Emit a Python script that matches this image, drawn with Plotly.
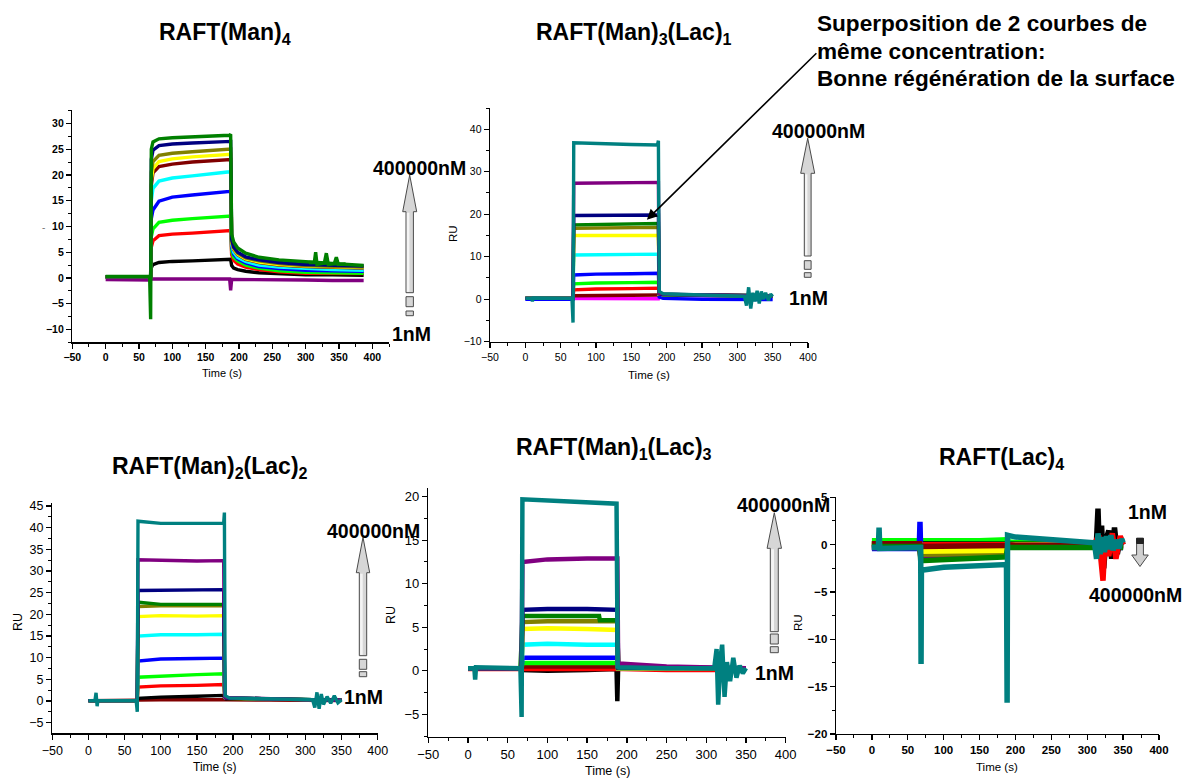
import plotly.graph_objects as go

W, H = 1183, 778

# ---------------- colours (Origin palette) ----------------
BLACK = '#000000'; RED = '#FF0000'; LIME = '#00FF00'; BLUE = '#0000FF'
CYAN = '#00FFFF'; MAGENTA = '#FF00FF'; YELLOW = '#FFFF00'; OLIVE = '#808000'
NAVY = '#000080'; PURPLE = '#800080'; WINE = '#800000'; DKGREEN = '#008000'
TEAL = '#008080'

# ---------------- titles / labels ----------------
TITLES = ['RAFT(Man)<sub>4</sub>', 'RAFT(Man)<sub>3</sub>(Lac)<sub>1</sub>',
          'RAFT(Man)<sub>2</sub>(Lac)<sub>2</sub>', 'RAFT(Man)<sub>1</sub>(Lac)<sub>3</sub>',
          'RAFT(Lac)<sub>4</sub>']
NOTE_LINES = ['Superposition de 2 courbes de', 'même concentration:',
              'Bonne régénération de la surface']
HIGH_LABEL = '400000nM'
LOW_LABEL = '1nM'
X_LABEL = 'Time (s)'
Y_LABEL = 'RU'

# ---------------- panel 1 : RAFT(Man)4 ----------------
P1_T = [0, 66, 67.5, 68.5, 71, 80, 100, 130, 160, 186, 187.5, 189, 192, 198, 210, 230, 260, 300, 340, 387]
P1_PURPLE = [-0.3, -0.3, -0.4, -0.2, -0.2, -0.2, -0.2, -0.2, -0.2, -0.2, -2.4, -0.3, -0.3, -0.3, -0.3, -0.3, -0.3, -0.4, -0.5, -0.5]
P1_BLACK = [0.2, 0.2, 0.2, 2.0, 2.6, 3.0, 3.2, 3.3, 3.4, 3.5, 3.6, 2.4, 1.9, 1.6, 1.3, 1.0, 0.8, 0.6, 0.6, 0.5]
P1_RED = [0.2, 0.2, 0.2, 6.0, 7.2, 8.2, 8.5, 8.7, 8.9, 9.1, 9.2, 4.5, 3.4, 2.7, 2.1, 1.6, 1.2, 0.9, 0.85, 0.85]
P1_LIME = [0.2, 0.2, 0.2, 8.0, 9.5, 10.8, 11.2, 11.5, 11.7, 11.9, 12.0, 5.2, 4.0, 3.3, 2.5, 1.9, 1.4, 1.1, 1.0, 0.9]
P1_BLUE = [0.2, 0.2, 0.2, 11.5, 13.2, 14.9, 15.7, 16.1, 16.4, 16.8, 17.0, 6.0, 4.6, 3.7, 2.9, 2.2, 1.8, 1.5, 1.4, 1.3]
P1_CYAN = [0.2, 0.2, 0.2, 15.0, 17.4, 18.8, 19.4, 19.8, 20.2, 20.6, 20.8, 6.5, 5.0, 4.0, 3.2, 2.5, 2.1, 1.8, 1.6, 1.5]
P1_WINE = [0.2, 0.2, 0.2, 18.0, 20.4, 21.6, 22.1, 22.5, 22.7, 22.9, 23.0, 7.0, 5.5, 4.5, 3.6, 3.0, 2.5, 2.2, 2.0, 1.9]
P1_YELLOW = [0.2, 0.2, 0.2, 19.0, 21.2, 22.6, 23.1, 23.5, 23.7, 23.9, 24.0, 7.0, 5.6, 4.6, 3.7, 3.1, 2.6, 2.3, 2.1, 2.0]
P1_OLIVE = [0.2, 0.2, 0.2, 20.5, 22.6, 23.8, 24.2, 24.5, 24.7, 24.9, 25.0, 7.2, 5.8, 4.8, 3.9, 3.3, 2.8, 2.4, 2.2, 2.1]
P1_NAVY = [0.2, 0.2, 0.2, 23.0, 24.8, 25.7, 26.0, 26.2, 26.3, 26.4, 26.5, 7.5, 6.0, 5.0, 4.1, 3.5, 3.0, 2.6, 2.4, 2.3]
P1_DKGREEN = [0.3, 0.3, -8.0, 25.0, 26.4, 27.0, 27.2, 27.4, 27.6, 27.7, 27.9, 8.5, 7.0, 5.8, 4.8, 4.0, 3.5, 3.1, 2.8, 2.4]
P1_DKGREEN_TAIL_T = [305, 313, 315, 317, 328, 331, 334, 343, 346, 349, 360]
P1_DKGREEN_TAIL = [3.0, 3.0, 5.0, 2.6, 2.9, 4.8, 2.6, 2.8, 4.0, 2.6, 2.7]

# ---------------- panel 2 : RAFT(Man)3(Lac)1 ----------------
P2_T = [0, 66, 67.5, 68.5, 100, 150, 187, 188.3, 189.5, 195, 250, 300, 350]
P2_MAGENTA = [0.2, 0.2, 0.2, 0.1, 0.1, 0.1, 0.1, 0.1, 0.9, 0.9, 0.8, 0.7, 0.7]
P2_WINE = [0.2, 0.2, 0.2, 0.8, 0.9, 1.0, 1.0, 1.0, 1.0, 1.0, 0.9, 0.8, 0.7]
P2_RED = [0.2, 0.2, 0.2, 2.2, 2.4, 2.5, 2.6, 2.6, 1.1, 1.0, 0.9, 0.8, 0.7]
P2_LIME = [0.2, 0.2, 0.2, 3.6, 3.8, 3.9, 4.0, 4.0, 1.1, 1.0, 0.9, 0.8, 0.7]
P2_BLUE = [0.0, 0.0, 0.0, 5.7, 5.9, 6.0, 6.1, 6.1, 0.5, 0.2, 0.0, -0.1, -0.1]
P2_CYAN = [0.2, 0.2, 0.2, 10.4, 10.5, 10.5, 10.6, 10.6, 1.2, 1.1, 1.0, 0.9, 0.8]
P2_YELLOW = [0.2, 0.2, 0.2, 15.0, 15.0, 15.1, 15.0, 15.0, 1.2, 1.1, 1.0, 0.9, 0.8]
P2_OLIVE = [0.2, 0.2, 0.2, 16.7, 16.8, 16.8, 16.9, 16.9, 1.2, 1.1, 1.0, 0.9, 0.8]
P2_DKGREEN = [0.2, 0.2, 0.2, 17.5, 17.6, 17.7, 17.8, 17.8, 1.3, 1.1, 1.0, 0.9, 0.8]
P2_NAVY = [0.2, 0.2, 0.2, 19.7, 19.7, 19.8, 19.8, 19.8, 1.3, 1.1, 1.0, 0.9, 0.8]
P2_PURPLE = [0.2, 0.2, 0.2, 27.3, 27.4, 27.4, 27.5, 27.5, 1.4, 1.2, 1.0, 0.9, 0.8]
P2_TEAL_T = [0, 9, 10, 11, 66, 67.5, 68.5, 100, 150, 187, 188.3, 189.5, 195, 250, 300, 310, 313, 316, 319, 322, 325, 328, 331, 334, 337, 340, 344, 347, 350]
P2_TEAL = [0.2, 0.2, -0.5, 0.3, 0.2, -5.5, 36.8, 36.6, 36.4, 36.3, 37.3, 1.8, 1.3, 1.0, 0.8, 0.7, -1.5, 2.8, -2.2, 1.5, -0.5, 2.0, -1.0, 1.8, 0.0, 1.5, -0.3, 1.2, 0.6]

# ---------------- panel 3 : RAFT(Man)2(Lac)2 ----------------
P3_T = [0, 66, 67.5, 68.5, 100, 150, 187, 188.5, 190, 250, 300, 350]
P3_WINE = [0.1, 0.1, 0.1, 0.2, 0.3, 0.3, 0.4, 0.3, 0.3, 0.2, 0.1, 0.1]
P3_BLACK = [0.1, 0.1, 0.1, 0.6, 0.9, 1.1, 1.3, 0.6, 0.5, 0.4, 0.3, 0.2]
P3_RED = [0.1, 0.1, 0.1, 3.2, 3.5, 3.6, 3.8, 0.7, 0.6, 0.4, 0.3, 0.2]
P3_LIME = [0.1, 0.1, 0.1, 5.5, 5.8, 6.1, 6.3, 0.8, 0.6, 0.4, 0.3, 0.2]
P3_BLUE = [0.1, 0.1, 0.1, 9.2, 9.7, 9.8, 9.9, 0.8, 0.7, 0.5, 0.3, 0.2]
P3_CYAN = [0.1, 0.1, 0.1, 15.0, 15.3, 15.3, 15.4, 0.9, 0.7, 0.5, 0.3, 0.2]
P3_YELLOW = [0.1, 0.1, 0.1, 19.5, 19.7, 19.6, 19.7, 0.9, 0.7, 0.5, 0.3, 0.2]
P3_OLIVE = [0.1, 0.1, 0.1, 21.8, 22.0, 22.0, 22.0, 0.9, 0.7, 0.5, 0.3, 0.2]
P3_DKGREEN = [0.1, 0.1, 0.1, 22.8, 22.3, 22.3, 22.3, 1.0, 0.7, 0.5, 0.3, 0.2]
P3_NAVY = [0.1, 0.1, 0.1, 25.5, 25.6, 25.7, 25.7, 1.0, 0.7, 0.5, 0.3, 0.2]
P3_PURPLE = [0.1, 0.1, 0.1, 32.6, 32.5, 32.3, 32.4, 1.0, 0.8, 0.5, 0.3, 0.2]
P3_TEAL_T = [0, 9, 10.5, 12, 13, 66, 67.5, 68.5, 100, 150, 187, 188, 189, 195, 250, 300, 310, 313, 316, 319, 322, 325, 330, 335, 340, 345, 350]
P3_TEAL = [0.1, 0.1, 1.9, -1.2, 0.1, 0.1, -2.5, 41.5, 41.0, 41.0, 41.0, 43.5, 1.2, 0.7, 0.5, 0.4, 0.3, -1.5, 2.0, -1.8, 1.6, -0.8, 1.0, -0.5, 1.2, -0.4, 0.3]

# ---------------- panel 4 : RAFT(Man)1(Lac)3 ----------------
P4_T = [0, 66, 67.5, 68.5, 100, 150, 165, 166, 187, 188, 189, 195, 250, 300, 350]
P4_BLACK = [0.3, 0.3, 0.3, 0.1, 0.0, 0.1, 0.1, 0.1, 0.2, -3.5, 0.3, 0.3, 0.3, 0.3, 0.2]
P4_RED = [0.2, 0.2, 0.2, 0.3, 0.3, 0.3, 0.3, 0.3, 0.3, 0.3, 0.2, 0.2, 0.1, 0.1, 0.1]
P4_WINE = [0.3, 0.3, 0.3, 0.5, 0.5, 0.5, 0.5, 0.5, 0.5, 0.5, 0.3, 0.3, 0.3, 0.3, 0.3]
P4_LIME = [0.3, 0.3, 0.3, 0.9, 0.9, 0.9, 0.9, 0.9, 0.9, 0.9, 0.3, 0.3, 0.3, 0.3, 0.3]
P4_BLUE = [0.3, 0.3, 0.3, 1.5, 1.5, 1.6, 1.6, 1.6, 1.5, 1.5, 0.3, 0.3, 0.3, 0.3, 0.3]
P4_CYAN = [0.3, 0.3, 0.3, 3.0, 3.1, 3.0, 3.0, 3.0, 3.0, 3.0, 0.3, 0.3, 0.3, 0.3, 0.3]
P4_YELLOW = [0.3, 0.3, 0.3, 4.8, 4.9, 4.8, 4.8, 4.8, 4.7, 4.7, 0.3, 0.3, 0.3, 0.3, 0.3]
P4_OLIVE = [0.3, 0.3, 0.3, 5.6, 5.7, 5.7, 5.7, 5.7, 5.7, 5.7, 0.3, 0.3, 0.3, 0.3, 0.3]
P4_DKGREEN = [0.3, 0.3, 3.3, 6.3, 6.3, 6.3, 6.3, 5.8, 5.8, 5.8, 0.4, 0.4, 0.3, 0.3, 0.3]
P4_NAVY = [0.3, 0.3, 0.3, 7.0, 7.1, 7.1, 7.1, 7.1, 7.0, 7.0, 0.4, 0.4, 0.3, 0.3, 0.3]
P4_PURPLE = [0.3, 0.3, 0.3, 12.5, 12.8, 12.9, 12.9, 12.9, 12.9, 12.9, 0.8, 0.8, 0.5, 0.4, 0.3]
P4_TEAL_T = [0, 8, 9, 10, 66, 67.5, 68.5, 100, 150, 187, 188.5, 190, 250, 300, 310, 313, 315, 318, 320, 323, 326, 330, 334, 338, 342, 346, 350]
P4_TEAL = [0.3, 0.3, -1.0, 0.4, 0.3, -5.3, 19.7, 19.6, 19.4, 19.2, 0.3, 0.4, 0.3, 0.3, 0.3, 2.5, -3.9, 1.5, 3.0, -3.0, 1.0, -1.2, 1.5, -0.8, 0.6, -0.3, 0.3]

# ---------------- panel 5 : RAFT(Lac)4 ----------------
P5_T = [0, 66, 67, 68, 100, 150, 187, 189, 200, 250, 300, 350]
P5_LIME = [0.4, 0.4, 0.4, 0.3, 0.4, 0.4, 0.5, 0.3, 0.2, 0.2, 0.2, 0.2]
P5_BLACK = [0.1, 0.1, 0.1, 0.1, 0.1, 0.1, 0.1, 0.1, 0.0, 0.0, 0.0, 0.0]
P5_RED = [0.0, 0.0, 0.0, 0.0, 0.0, 0.1, 0.1, 0.0, 0.0, 0.0, 0.0, -0.1]
P5_BLUE = [-0.4, -0.4, 2.4, -0.9, -0.9, -0.9, -0.8, -0.2, -0.2, -0.2, -0.2, -0.3]
P5_CYAN = [-0.1, -0.1, -0.1, -0.6, -0.6, -0.6, -0.5, -0.1, -0.1, -0.1, -0.1, -0.1]
P5_NAVY = [-0.3, -0.3, -0.3, -1.2, -1.2, -1.1, -1.1, -0.2, -0.2, -0.2, -0.2, -0.2]
P5_PURPLE = [-0.3, -0.3, -0.3, -1.3, -1.3, -1.2, -1.2, -0.2, -0.2, -0.2, -0.2, -0.2]
P5_OLIVE = [-0.1, -0.1, -0.1, -1.0, -1.0, -0.9, -0.9, -0.1, -0.1, -0.1, -0.1, -0.1]
P5_YELLOW = [0.0, 0.0, 0.0, -0.7, -0.7, -0.6, -0.6, -0.1, -0.1, -0.1, -0.1, -0.1]
P5_WINE = [0.1, 0.1, 0.1, -0.2, -0.2, -0.1, -0.1, 0.0, -0.1, -0.1, -0.1, -0.1]
P5_DKGREEN = [-0.2, -0.2, -0.2, -1.7, -1.6, -1.5, -1.3, -0.3, -0.3, -0.3, -0.3, -0.3]
P5_BLACK_TAIL_T = [310, 313, 315, 317, 320, 323, 326, 330, 334, 338, 342, 346, 350]
P5_BLACK_TAIL = [0.0, 0.5, 3.8, -1.0, 2.0, -2.5, 0.5, 1.5, -1.5, 1.8, -1.0, 0.8, 0.0]
P5_RED_TAIL_T = [310, 316, 319, 322, 325, 330, 335, 340, 346, 350]
P5_RED_TAIL = [0.0, 1.0, -1.5, -3.8, 0.8, -1.2, 1.2, -1.5, 0.9, 0.0]
P5_TEAL_T = [0, 9, 10, 11, 66, 68, 68.5, 69, 100, 150, 187.5, 188.4, 189, 200, 250, 300, 310, 313, 315, 318, 321, 324, 327, 330, 333, 336, 340, 344, 348, 350]
P5_TEAL = [-0.3, -0.3, 1.8, -0.4, -0.3, -0.3, -12.6, -2.7, -2.4, -2.3, -2.1, -16.7, 1.0, 0.8, 0.5, 0.3, 0.2, -1.5, 1.2, -1.0, 0.8, -0.8, 0.9, -0.5, 1.0, -0.6, 0.5, -0.4, 0.6, 0.2]

# ---------------- traces per panel (drawing order) ----------------
PANEL_TRACES = {
    1: [(PURPLE, P1_T, P1_PURPLE), (BLACK, P1_T, P1_BLACK), (RED, P1_T, P1_RED),
        (LIME, P1_T, P1_LIME), (BLUE, P1_T, P1_BLUE), (CYAN, P1_T, P1_CYAN),
        (WINE, P1_T, P1_WINE), (YELLOW, P1_T, P1_YELLOW), (OLIVE, P1_T, P1_OLIVE),
        (NAVY, P1_T, P1_NAVY), (DKGREEN, P1_DKGREEN_TAIL_T, P1_DKGREEN_TAIL),
        (DKGREEN, P1_T, P1_DKGREEN)],
    2: [(MAGENTA, P2_T, P2_MAGENTA), (WINE, P2_T, P2_WINE), (RED, P2_T, P2_RED),
        (LIME, P2_T, P2_LIME), (BLUE, P2_T, P2_BLUE), (CYAN, P2_T, P2_CYAN),
        (YELLOW, P2_T, P2_YELLOW), (OLIVE, P2_T, P2_OLIVE), (DKGREEN, P2_T, P2_DKGREEN),
        (NAVY, P2_T, P2_NAVY), (PURPLE, P2_T, P2_PURPLE), (TEAL, P2_TEAL_T, P2_TEAL)],
    3: [(WINE, P3_T, P3_WINE), (BLACK, P3_T, P3_BLACK), (RED, P3_T, P3_RED),
        (LIME, P3_T, P3_LIME), (BLUE, P3_T, P3_BLUE), (CYAN, P3_T, P3_CYAN),
        (YELLOW, P3_T, P3_YELLOW), (OLIVE, P3_T, P3_OLIVE), (DKGREEN, P3_T, P3_DKGREEN),
        (NAVY, P3_T, P3_NAVY), (PURPLE, P3_T, P3_PURPLE), (TEAL, P3_TEAL_T, P3_TEAL)],
    4: [(BLACK, P4_T, P4_BLACK), (RED, P4_T, P4_RED), (WINE, P4_T, P4_WINE),
        (LIME, P4_T, P4_LIME), (BLUE, P4_T, P4_BLUE), (CYAN, P4_T, P4_CYAN),
        (YELLOW, P4_T, P4_YELLOW), (OLIVE, P4_T, P4_OLIVE), (DKGREEN, P4_T, P4_DKGREEN),
        (NAVY, P4_T, P4_NAVY), (PURPLE, P4_T, P4_PURPLE), (TEAL, P4_TEAL_T, P4_TEAL)],
    5: [(LIME, P5_T, P5_LIME), (BLACK, P5_T, P5_BLACK), (RED, P5_T, P5_RED),
        (BLUE, P5_T, P5_BLUE), (CYAN, P5_T, P5_CYAN), (NAVY, P5_T, P5_NAVY),
        (PURPLE, P5_T, P5_PURPLE), (OLIVE, P5_T, P5_OLIVE), (YELLOW, P5_T, P5_YELLOW),
        (WINE, P5_T, P5_WINE), (DKGREEN, P5_T, P5_DKGREEN),
        (BLACK, P5_BLACK_TAIL_T, P5_BLACK_TAIL), (RED, P5_RED_TAIL_T, P5_RED_TAIL),
        (TEAL, P5_TEAL_T, P5_TEAL)],
}

# ---------------- layout geometry (pixels) ----------------
BOX = {1: (72.3, 389.0, 110.0, 342.3), 2: (490.0, 808.0, 108.0, 341.7),
       3: (52.3, 377.7, 503.0, 733.3), 4: (428.3, 785.7, 488.0, 736.7),
       5: (836.0, 1159.0, 497.3, 734.0)}
XRANGE = {1: [-50, 425], 2: [-50, 400], 3: [-50, 400], 4: [-50, 400], 5: [-50, 400]}
YRANGE = {1: [-12.5, 32.6], 2: [-10, 45], 3: [-7.45, 45.7], 4: [-7.57, 21.0], 5: [-20, 5]}
YDTICK = {1: 5, 2: 10, 3: 5, 4: 5, 5: 5}
YMINOR = {1: 2.5, 2: 5, 3: 2.5, 4: 2.5, 5: 2.5}
TICKFONT = {1: (10.5, 'bold'), 2: (10.5, 'normal'), 3: (12.5, 'normal'),
            4: (13, 'normal'), 5: (11.5, 'bold')}
LINEW = {1: 3.4, 2: 3.4, 3: 3.4, 4: 4.5, 5: 5.5}

FONT = 'Liberation Sans, Arial, sans-serif'


def px(x):
    return x / W


def py(y):
    return 1 - y / H


fig = go.Figure()
layout = dict(template='none', width=W, height=H, autosize=False,
              margin=dict(l=0, r=0, t=0, b=0, pad=0, autoexpand=False),
              paper_bgcolor='white', plot_bgcolor='white', showlegend=False,
              font=dict(family=FONT, color='black'))

for p in range(1, 6):
    xa = 'x' if p == 1 else f'x{p}'
    ya = 'y' if p == 1 else f'y{p}'
    for color, t, v in PANEL_TRACES[p]:
        if len(t) != len(v):
            raise ValueError(f'panel {p} {color}: {len(t)} vs {len(v)}')
        fig.add_trace(go.Scatter(x=t, y=v, mode='lines', xaxis=xa, yaxis=ya,
                                 line=dict(color=color, width=LINEW[p]),
                                 hoverinfo='skip', showlegend=False))
    l, r, tp, b = BOX[p]
    fs, fw = TICKFONT[p]
    common = dict(showline=True, linecolor='black', linewidth=1.4, ticks='outside',
                  ticklen=5, tickwidth=1.3, tickcolor='black', showgrid=False,
                  zeroline=False, fixedrange=True, automargin=False, mirror=False,
                  tickfont=dict(family=FONT, size=fs, weight=fw, color='black'))
    layout['xaxis' if p == 1 else f'xaxis{p}'] = dict(
        common, domain=[px(l), px(r)], range=XRANGE[p], anchor=ya,
        tick0=-50, dtick=50,
        minor=dict(ticks='outside', ticklen=3, tickwidth=1, tickcolor='black',
                   tick0=-50, dtick=25, showgrid=False))
    layout['yaxis' if p == 1 else f'yaxis{p}'] = dict(
        common, domain=[py(b), py(tp)], range=YRANGE[p], anchor=xa,
        tick0=0, dtick=YDTICK[p],
        minor=dict(ticks='outside', ticklen=3, tickwidth=1, tickcolor='black',
                   tick0=0, dtick=YMINOR[p], showgrid=False))

fig.update_layout(**layout)

ann = []
# panel titles
TITLE_POS = [(225, 33), (634, 33), (210, 468), (614, 448), (1001, 458)]
for txt, (cx, cy) in zip(TITLES, TITLE_POS):
    ann.append(dict(text=f'<b>{txt}</b>', x=px(cx), y=py(cy), xref='paper', yref='paper',
                    xanchor='center', yanchor='middle', showarrow=False,
                    font=dict(family=FONT, size=23, color='black')))

# x labels
for cx, cy, fs in [(222, 373, 11), (649, 375, 11.5), (215, 767, 12), (607, 771, 12.5), (997, 767, 11.5)]:
    ann.append(dict(text=X_LABEL, x=px(cx), y=py(cy), xref='paper', yref='paper',
                    xanchor='center', yanchor='middle', showarrow=False,
                    font=dict(family=FONT, size=fs, color='black')))
# y labels
for cx, cy, fs in [(453, 234, 11.5), (18, 622, 12.5), (391, 615, 12.5), (798, 623, 11.5)]:
    ann.append(dict(text=Y_LABEL, x=px(cx), y=py(cy), xref='paper', yref='paper',
                    xanchor='center', yanchor='middle', showarrow=False, textangle=-90,
                    font=dict(family=FONT, size=fs, color='black')))
# small stray dash in panel 1
ann.append(dict(text='-', x=px(43), y=py(227), xref='paper', yref='paper',
                xanchor='center', yanchor='middle', showarrow=False,
                font=dict(family=FONT, size=10, color='#777777')))

# top-right note
for txt, cy in zip(NOTE_LINES, [24, 51, 79]):
    ann.append(dict(text=f'<b>{txt}</b>', x=px(815), y=py(cy), xref='paper', yref='paper',
                    xanchor='left', yanchor='middle', showarrow=False,
                    font=dict(family=FONT, size=22.6, color='black')))
# arrow pointing to the superposed curves in panel 2
ann.append(dict(text='', x=172, y=18.7, xref='x2', yref='y2', showarrow=True,
                ax=171, ay=-168, axref='pixel', ayref='pixel',
                arrowhead=2, arrowsize=1.3, arrowwidth=1.6, arrowcolor='black'))

# concentration labels
CONC_LABELS = [
    (HIGH_LABEL, 371, 168), (LOW_LABEL, 390, 334),
    (HIGH_LABEL, 770, 131), (LOW_LABEL, 787, 298),
    (HIGH_LABEL, 325, 531), (LOW_LABEL, 342, 697),
    (HIGH_LABEL, 735, 505), (LOW_LABEL, 753, 673),
    (LOW_LABEL, 1126, 512), (HIGH_LABEL, 1087, 595),
]
for txt, lx, cy in CONC_LABELS:
    ann.append(dict(text=f'<b>{txt}</b>', x=px(lx), y=py(cy), xref='paper', yref='paper',
                    xanchor='left', yanchor='middle', showarrow=False,
                    font=dict(family=FONT, size=19.5, color='black')))

fig.update_layout(annotations=ann)

# gradient-like grey arrows drawn as shapes
shapes = []


def poly(points, fill, line='#4a4a4a', lw=1):
    path = 'M ' + ' L '.join(f'{px(x):.5f},{py(y):.5f}' for x, y in points) + ' Z'
    return dict(type='path', path=path, xref='paper', yref='paper',
                fillcolor=fill, line=dict(color=line, width=lw), layer='above')


def rect(x0, x1, y0, y1, fill, line='#4a4a4a', lw=1):
    return dict(type='rect', x0=px(x0), x1=px(x1), y0=py(y1), y1=py(y0),
                xref='paper', yref='paper', fillcolor=fill,
                line=dict(color=line, width=lw), layer='above')


def up_arrow(cx, tip, hb, sb, hw, sw, r1, r2):
    out = [poly([(cx, tip), (cx + hw, hb), (cx + sw, hb), (cx + sw, sb),
                 (cx - sw, sb), (cx - sw, hb), (cx - hw, hb)], '#d6d6d6')]
    out.append(dict(type='rect', x0=px(cx - sw + 0.8), x1=px(cx - 0.3),
                    y0=py(sb - 0.8), y1=py(hb + 1), xref='paper', yref='paper',
                    fillcolor='#f4f4f4', line=dict(width=0), layer='above'))
    out.append(rect(cx - sw, cx + sw, r1[0], r1[1], '#d6d6d6'))
    out.append(rect(cx - sw, cx + sw, r2[0], r2[1], '#d6d6d6'))
    return out


shapes += up_arrow(409.7, 175.0, 211.7, 292.7, 7.0, 3.7, (296.7, 306.7), (311.0, 315.7))
shapes += up_arrow(807.7, 138.3, 173.3, 256.0, 7.0, 3.4, (260.7, 269.3), (272.7, 277.3))
shapes += up_arrow(363.0, 537.3, 572.7, 655.7, 6.7, 3.7, (659.3, 669.3), (671.7, 676.7))
shapes += up_arrow(774.3, 512.7, 548.3, 631.7, 7.2, 4.0, (634.0, 644.0), (646.7, 652.7))
# panel 5 down arrow
shapes.append(poly([(1140 - 3.4, 538.3), (1140 + 3.4, 538.3), (1140 + 3.4, 555.0),
                    (1140 + 8.3, 555.0), (1140, 566.5), (1140 - 8.3, 555.0),
                    (1140 - 3.4, 555.0)], '#d0d0d0'))
shapes.append(rect(1140 - 3.4, 1140 + 3.4, 538.3, 543.5, '#222222', line='#222222'))

fig.update_layout(shapes=shapes)

# remove the browser's default 8px page margin so the figure sits at (0, 0)
fig.write_html('out.html', config={'displayModeBar': False, 'staticPlot': True},
               post_script="document.body.style.margin='0';document.body.style.overflow='hidden';")
